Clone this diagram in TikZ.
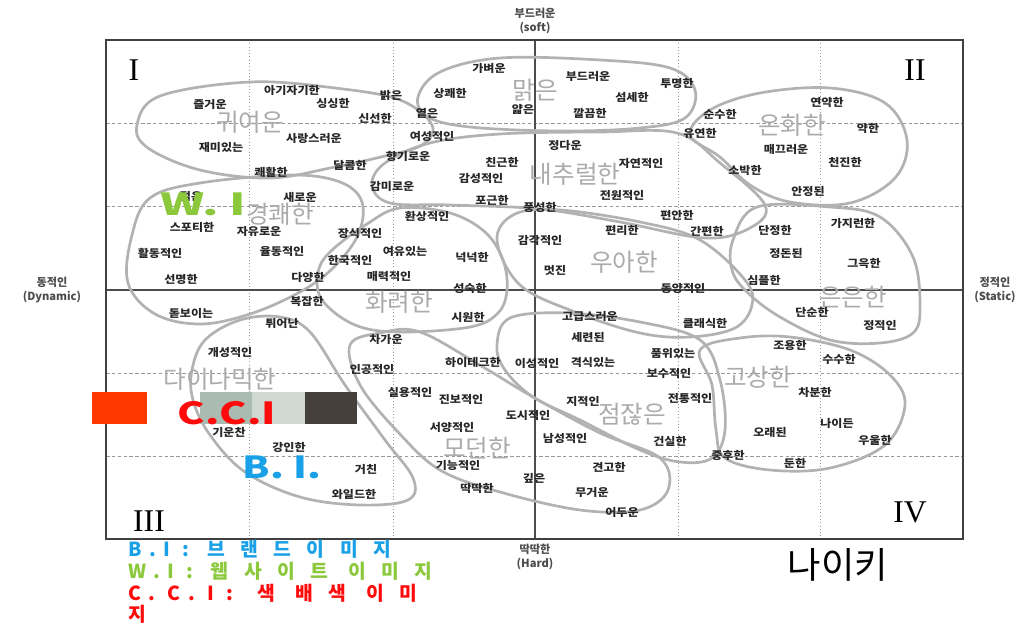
\documentclass[tikz,border=0pt]{standalone}
\usepackage{fontspec}
\setmainfont{Noto Sans CJK KR}
\newfontfamily\numfont{Liberation Serif}
\definecolor{wigreen}{RGB}{140,200,60}
\definecolor{biblue}{RGB}{25,160,230}
\definecolor{ccired}{RGB}{255,10,10}
\definecolor{swatchA}{RGB}{255,55,0}
\definecolor{swatchB}{RGB}{170,188,178}
\definecolor{swatchC}{RGB}{208,216,210}
\definecolor{swatchD}{RGB}{70,64,61}
\newcommand{\widen}[1]{\scalebox{1.12}[1]{#1}}
\newcommand{\abbr}[1]{{\addfontfeatures{LetterSpace=40}#1}\hspace*{15pt}}
\newcommand{\spread}[1]{{\addfontfeatures{LetterSpace=80}#1}}
\tikzset{
  frame/.style={draw=black!75, line width=1.6pt},
  axis/.style={draw=black!70, line width=1.1pt},
  vgrid/.style={draw=black!40, line width=0.8pt, dotted},
  hgrid/.style={draw=black!40, line width=0.7pt, dash pattern=on 3pt off 2pt},
  blob/.style={draw=black!30, line width=2.3pt},
  word/.style={inner sep=0pt, text=black!85, font=\fontsize{9.2}{10}\selectfont\bfseries},
  mood/.style={inner sep=0pt, text=black!33, font=\fontsize{21}{22}\selectfont},
  pole/.style={inner sep=0pt, text=black!70, align=center, font=\fontsize{9.5}{12.5}\selectfont\bfseries},
  quad/.style={inner sep=0pt, font=\fontsize{27}{28}\selectfont\numfont},
  tag/.style={inner sep=0pt, font=\fontsize{26}{27}\selectfont\bfseries},
  legend/.style={inner sep=0pt, anchor=west, font=\fontsize{16.5}{17}\selectfont\bfseries}
}
\begin{document}
\begin{tikzpicture}[x=0.03cm, y=-0.03cm]
\useasboundingbox (0,0) rectangle (1033,626);

% grid of the scale
\foreach \gx in {249,393,678,820} \draw[vgrid] (\gx,40) -- (\gx,539);
\foreach \gy in {123,206,373,456} \draw[hgrid] (106,\gy) -- (963,\gy);
\draw[axis] (535,40) -- (535,539);
\draw[axis] (106,290) -- (963,290);
\draw[frame] (106,40) rectangle (963,539);

% image groups
\draw[blob] plot[smooth cycle, tension=0.6] coordinates {(137,125) (160,96) (250,82) (335,88) (400,100) (432,125) (422,145) (385,156) (335,167) (270,178) (200,170) (148,148)};
\draw[blob] plot[smooth cycle, tension=0.6] coordinates {(418,97) (440,72) (500,58) (600,60) (670,68) (695,90) (685,118) (640,128) (560,131) (470,127) (428,117)};
\draw[blob] plot[smooth cycle, tension=0.6] coordinates {(690,135) (710,110) (760,93) (830,88) (885,103) (907,140) (895,178) (850,203) (790,202) (750,185) (720,157)};
\draw[blob] plot[smooth cycle, tension=0.6] coordinates {(372,185) (385,163) (430,143) (500,134) (600,132) (677,133) (720,163) (765,205) (750,228) (705,238) (620,222) (540,209) (450,205) (390,203)};
\draw[blob] plot[smooth cycle, tension=0.6] coordinates {(150,198) (200,183) (290,175) (340,182) (362,202) (358,235) (333,268) (300,292) (250,314) (200,324) (155,314) (128,283) (132,235)};
\draw[blob] plot[smooth cycle, tension=0.6] coordinates {(330,252) (367,224) (400,208) (450,213) (485,232) (503,260) (507,290) (498,313) (470,327) (400,332) (355,325) (322,300) (318,273)};
\draw[blob] plot[smooth cycle, tension=0.6] coordinates {(497,240) (515,214) (560,210) (640,222) (700,240) (745,280) (752,305) (735,328) (690,337) (640,333) (575,312) (520,285)};
\draw[blob] plot[smooth cycle, tension=0.6] coordinates {(757,207) (830,207) (880,217) (913,257) (920,307) (913,333) (880,343) (830,340) (780,317) (747,292) (732,270) (733,240)};
\draw[blob] plot[smooth cycle, tension=0.6] coordinates {(497,345) (510,318) (567,313) (640,322) (700,340) (720,380) (725,430) (712,458) (680,462) (640,450) (580,420) (533,397) (505,370)};
\draw[blob] plot[smooth cycle, tension=0.6] coordinates {(700,350) (740,338) (790,337) (850,350) (890,375) (905,405) (885,445) (830,468) (770,470) (725,458) (716,430) (712,385)};
\draw[blob] plot[smooth cycle, tension=0.6] coordinates {(350,345) (380,333) (420,332) (483,367) (533,397) (600,433) (660,458) (668,490) (640,510) (580,510) (500,492) (440,470) (398,432) (360,385)};
\draw[blob] plot[smooth cycle, tension=0.6] coordinates {(192,370) (205,340) (240,320) (280,317) (310,332) (345,385) (385,440) (413,478) (408,500) (360,505) (300,497) (245,472) (210,435) (193,400)};

% colour swatches
\fill[swatchA] (92,392) rectangle (147,424);
\fill[swatchB] (200,392) rectangle (252,424);
\fill[swatchC] (252,392) rectangle (305,424);
\fill[swatchD] (305,392) rectangle (357,424);

% group names
\foreach \px/\py/\txt [count=\k] in {250/122/귀여운, 535/90/맑은, 575/174/내추럴한, 792/125/온화한,
  280/214/경쾌한, 399/302/화려한, 624/262/우아한, 853/297/은은한,
  220/379/다이나믹한, 477/448/모던한, 632/414/점잖은, 758/377/고상한}
  \node[mood] (m\k) at (\px,\py) {\txt};

% adjectives
\foreach \px/\py/\txt [count=\k] in {
  210/104/즐거운, 292/90/아기자기한, 333/103/싱싱한, 391/95/밝은, 375/118/신선한,
  314/138/사랑스러운, 221/147/재미있는, 271/172/쾌활한, 350/165/달콤한, 408/156/향기로운,
  392/186/감미로운, 300/197/새로운, 191/196/젊은, 432/136/여성적인, 192/227/스포티한,
  259/231/자유로운, 160/253/활동적인, 282/251/율동적인, 360/233/장식적인, 350/260/한국적인,
  405/251/여유있는, 181/279/선명한, 308/277/다양한, 389/276/매력적인, 307/301/복잡한,
  191/313/돋보이는, 282/323/튀어난, 427/216/환상적인, 472/257/넉넉한, 470/288/성숙한,
  468/317/시원한, 489/68/가벼운, 450/93/상쾌한, 427/113/옅은, 523/109/얇은,
  588/76/부드러운, 632/97/섬세한, 677/83/투명한, 590/113/깔끔한, 565/145/정다운,
  502/162/친근한, 481/178/감성적인, 641/163/자연적인, 492/200/포근한, 622/195/전원적인,
  540/207/풍성한, 677/215/편안한, 622/230/편리한, 707/231/간편한, 540/240/감각적인,
  555/270/멋진, 683/288/동양적인, 590/316/고급스러운, 588/337/세련된, 705/323/클래식한,
  720/114/순수한, 700/133/유연한, 827/102/연약한, 868/128/약한, 786/149/매끄러운,
  745/170/소박한, 845/162/천진한, 808/191/안정된, 775/230/단정한, 853/223/가지런한,
  786/253/정돈된, 864/263/그윽한, 764/280/심플한, 812/312/단순한, 880/325/정적인,
  230/352/개성적인, 229/432/기운찬, 289/447/강인한, 366/469/거친, 354/494/와일드한,
  386/339/차가운, 372/369/인공적인, 410/392/실용적인, 461/399/진보적인, 473/362/하이테크한,
  537/363/이성적인, 593/362/격식있는, 673/353/품위있는, 669/373/보수적인, 583/401/지적인,
  690/398/전통적인, 528/415/도시적인, 452/427/서양적인, 565/438/남성적인, 670/441/건실한,
  458/465/기능적인, 477/488/딱딱한, 534/478/깊은, 609/467/견고한, 592/492/무거운,
  622/512/어두운, 790/345/조용한, 839/359/수수한, 815/392/차분한, 837/423/나이든,
  875/440/우울한, 770/432/오래된, 728/455/중후한, 795/463/둔한}
  \node[word] (w\k) at (\px,\py) {\widen{\txt}};

% poles of the two axes
\node[pole] (soft) at (535,21) {부드러운\\(soft)};
\node[pole] (hard) at (535,557) {딱딱한\\(Hard)};
\node[pole] (dyn) at (52,290) {동적인\\(Dynamic)};
\node[pole] (stat) at (995,290) {정적인\\(Static)};

% quadrant numbers
\node[quad] (q1) at (134,70) {I};
\node[quad] (q2) at (915,70) {II};
\node[quad] (q3) at (149,521) {III};
\node[quad] (q4) at (910,512) {IV};

% image markers
\node[tag, text=wigreen] (wi) at (203,204) {\scalebox{1.55}[1]{W.\ I}};
\node[tag, text=ccired] (cci) at (227,413) {\scalebox{1.35}[1]{C.C.I}};
\node[tag, text=biblue] (bi) at (282,467) {\scalebox{1.3}[1]{B.\ I.}};
\node[inner sep=0pt, font=\fontsize{31}{32}\selectfont] (brand) at (838,565) {나이키};

% legend
\node[legend, text=biblue] (lg1) at (128,549) {\abbr{B.I :}\spread{브랜드이미지}};
\node[legend, text=wigreen] (lg2) at (128,571) {\abbr{W.I :}\spread{웹사이트 이미지}};
\node[legend, text=ccired] (lg3) at (128,593) {\abbr{C. C. I :}\hspace*{6pt}\spread{색 배색 이미}};
\node[legend, text=ccired] (lg4) at (128,614) {지};
\end{tikzpicture}
\end{document}
